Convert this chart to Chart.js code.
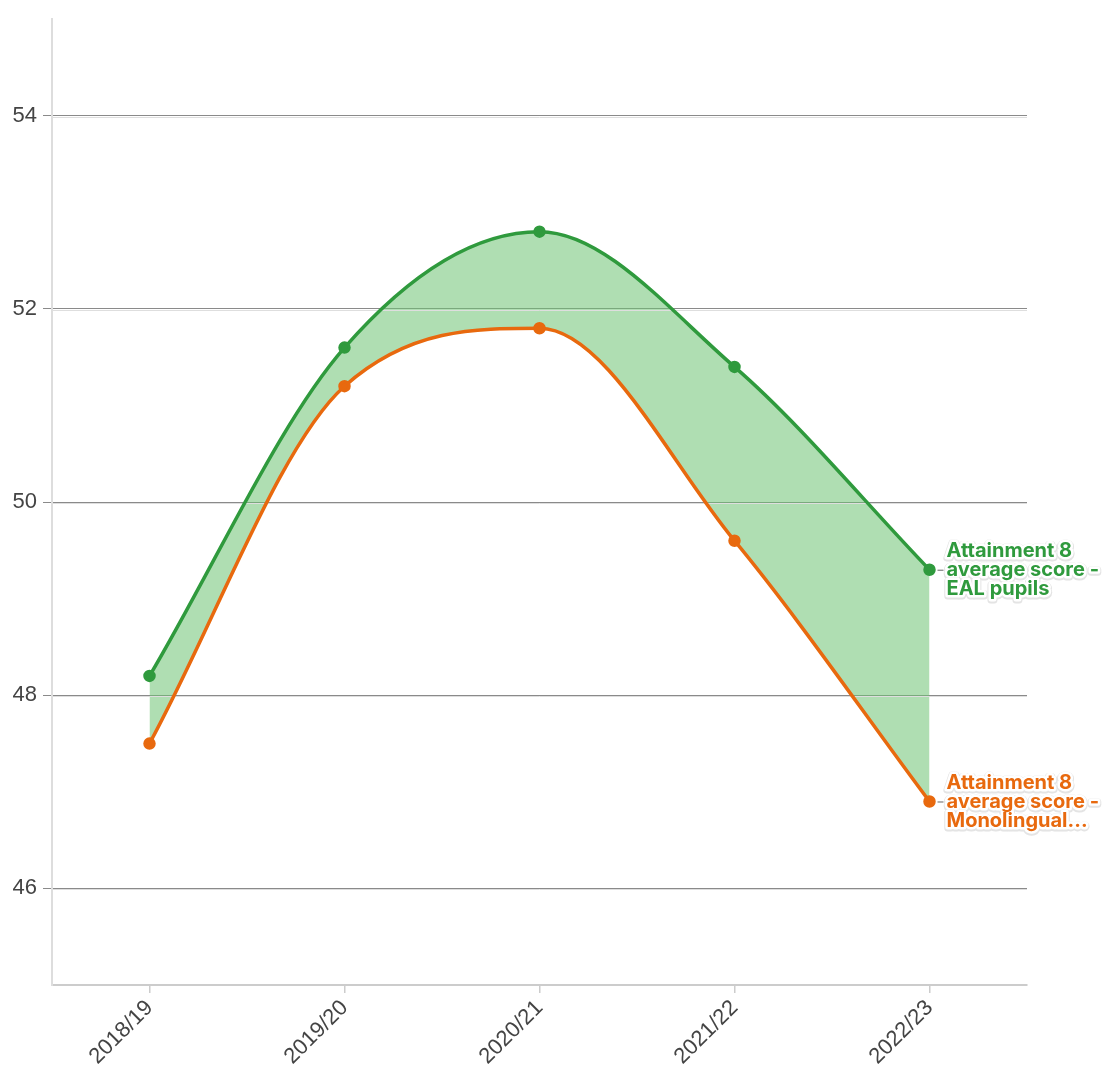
<!DOCTYPE html>
<html lang="en">
<head>
  <meta charset="UTF-8">
  <title>Attainment 8 average score</title>
  <script src="https://cdn.jsdelivr.net/npm/chart.js"></script>
  <style>
    html, body { margin: 0; padding: 0; background: #ffffff; }
    #wrap { width: 1108px; height: 1073px; position: relative; }
  </style>
</head>
<body>
  <div id="wrap"><canvas id="chart"></canvas></div>

  <script>
    // Data
    const years = ['2018/19', '2019/20', '2020/21', '2021/22', '2022/23'];
    const ealScores = [48.2, 51.6, 52.8, 51.4, 49.3];
    const monoScores = [47.5, 51.2, 51.8, 49.6, 46.9];
    const yTicks = [46, 48, 50, 52, 54];
    const ealLabel = ['Attainment 8', 'average score -', 'EAL pupils'];
    const monoLabel = ['Attainment 8', 'average score -', 'Monolingual...'];

    const green = '#2f9a3d';
    const orange = '#e8690e';

    // second, lighter line under each gridline
    const gridShadow = {
      id: 'gridShadow',
      beforeDatasetsDraw(chart) {
        const { ctx, chartArea, scales } = chart;
        ctx.save();
        ctx.strokeStyle = '#dedede';
        ctx.lineWidth = 1;
        yTicks.forEach(v => {
          const y = Math.round(scales.y.getPixelForValue(v)) + 1.5;
          ctx.beginPath();
          ctx.moveTo(chartArea.left, y);
          ctx.lineTo(chartArea.right, y);
          ctx.stroke();
        });
        ctx.restore();
      }
    };

    // labels at the end of each line
    const endLabels = {
      id: 'endLabels',
      afterDatasetsDraw(chart) {
        const { ctx } = chart;
        chart.data.datasets.forEach((ds, i) => {
          const meta = chart.getDatasetMeta(i);
          const pt = meta.data[meta.data.length - 1];
          const lines = ds.endLabel;
          ctx.save();
          ctx.strokeStyle = '#666';
          ctx.lineWidth = 1;
          ctx.beginPath();
          ctx.moveTo(pt.x + 8, pt.y + 0.5);
          ctx.lineTo(pt.x + 14, pt.y + 0.5);
          ctx.stroke();
          ctx.font = 'bold 20px Inter, "Noto Sans", sans-serif';
          ctx.textBaseline = 'middle';
          ctx.textAlign = 'left';
          ctx.lineJoin = 'round';
          lines.forEach((t, j) => {
            const y = pt.y + (j - 1) * 19;
            ctx.strokeStyle = '#e4e4e4';
            ctx.lineWidth = 7;
            ctx.strokeText(t, pt.x + 17, y + 1);
            ctx.strokeStyle = '#ffffff';
            ctx.lineWidth = 5;
            ctx.strokeText(t, pt.x + 17, y);
          });
          lines.forEach((t, j) => {
            const y = pt.y + (j - 1) * 19;
            ctx.fillStyle = ds.borderColor;
            ctx.fillText(t, pt.x + 17, y);
          });
          ctx.restore();
        });
      }
    };

    new Chart(document.getElementById('chart'), {
      type: 'line',
      data: {
        labels: years,
        datasets: [
          {
            label: 'Attainment 8 average score - EAL pupils',
            data: ealScores,
            endLabel: ealLabel,
            borderColor: green,
            backgroundColor: 'rgba(110, 195, 115, 0.55)',
            pointBackgroundColor: green,
            pointBorderColor: green,
            pointRadius: 4.5,
            borderWidth: 3.5,
            cubicInterpolationMode: 'monotone',
            fill: '+1'
          },
          {
            label: 'Attainment 8 average score - Monolingual pupils',
            data: monoScores,
            endLabel: monoLabel,
            borderColor: orange,
            backgroundColor: orange,
            pointBackgroundColor: orange,
            pointBorderColor: orange,
            pointRadius: 4.5,
            borderWidth: 3.5,
            cubicInterpolationMode: 'monotone',
            fill: false
          }
        ]
      },
      options: {
        responsive: true,
        maintainAspectRatio: false,
        animation: false,
        layout: { padding: { top: 15, right: 81, left: 0, bottom: 0 } },
        plugins: {
          legend: { display: false },
          tooltip: { enabled: false },
          filler: { drawTime: 'beforeDatasetsDraw' }
        },
        scales: {
          x: {
            offset: true,
            afterFit(scale) { scale.height = 88; },
            border: { color: '#cccccc', width: 2 },
            grid: { drawOnChartArea: false, drawTicks: true, tickLength: 8, color: '#cccccc', lineWidth: 1.5 },
            ticks: {
              minRotation: 45,
              maxRotation: 45,
              color: '#444444',
              padding: 2,
              font: { family: '"Liberation Sans", Arial, sans-serif', size: 22 }
            }
          },
          y: {
            min: 45,
            max: 55,
            afterFit(scale) { scale.width = 52; },
            afterBuildTicks(scale) { scale.ticks = yTicks.map(v => ({ value: v })); },
            border: { color: '#dddddd', width: 2 },
            grid: { color: '#8a8a8a', lineWidth: 1, tickLength: 9 },
            ticks: {
              color: '#444444',
              padding: 6,
              font: { family: '"Liberation Sans", Arial, sans-serif', size: 22 }
            }
          }
        }
      },
      plugins: [gridShadow, endLabels]
    });
  </script>
</body>
</html>
